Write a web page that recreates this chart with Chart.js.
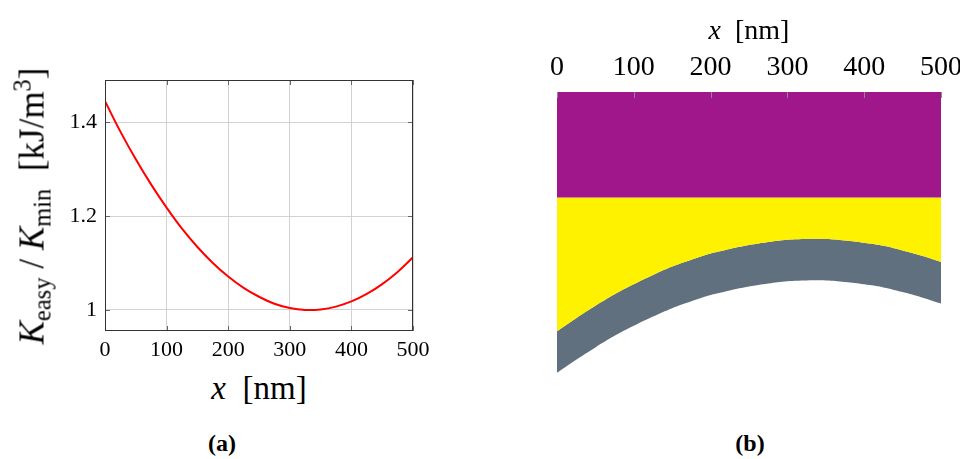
<!DOCTYPE html>
<html lang="en">
<head>
<meta charset="UTF-8">
<title>Keasy / Kmin and layer profile</title>
<script src="https://cdn.jsdelivr.net/npm/chart.js@4.4.0/dist/chart.umd.min.js"></script>
<style>
  body { margin: 0; background: #fff; font-family: "Liberation Serif", "Times New Roman", serif; }
  #wrap { position: relative; width: 966px; height: 459px; overflow: hidden; }
  canvas { position: absolute; }
  .lbl { position: absolute; white-space: nowrap; color: #000; line-height: 1; text-align: center; }
  .lbl sub { font-size: 0.7em; vertical-align: -0.3em; line-height: 0; }
  .lbl sup { font-size: 0.7em; vertical-align: 0.55em; line-height: 0; }
  #ytA { left: 32px; top: 206px; font-size: 35px; transform: translate(-50%, -50%) rotate(-90deg); }
  #xtA { left: 159px; top: 372px; width: 200px; font-size: 33px; }
  #xtB { left: 649px; top: 16px; width: 200px; font-size: 28px; }
  .cap { top: 431px; width: 100px; font-size: 24px; font-weight: bold; }
</style>
</head>
<body>
<div id="wrap">
  <canvas id="chartA" width="440" height="360" style="left:0;top:0"></canvas>
  <canvas id="chartB" width="420" height="400" style="left:540px;top:0"></canvas>
  <div class="lbl" id="ytA"><i>K</i><sub>easy</sub> / <i>K</i><sub>min</sub>&nbsp;&nbsp;[kJ/m<sup>3</sup>]</div>
  <div class="lbl" id="xtA"><i>x</i>&nbsp;&nbsp;[nm]</div>
  <div class="lbl" id="xtB"><i>x</i>&nbsp;&nbsp;[nm]</div>
  <div class="lbl cap" style="left:172px">(a)</div>
  <div class="lbl cap" style="left:700px">(b)</div>
</div>
<script>
// shared x positions (nm)
const xs = [0, 25, 50, 75, 100, 125, 150, 175, 200, 225, 250, 275, 300, 325, 350, 375, 400, 425, 450, 475, 500];
// (a) Keasy / Kmin
const ratio = [1.445, 1.380, 1.321, 1.267, 1.218, 1.173, 1.134, 1.100, 1.071, 1.047, 1.028, 1.013, 1.004, 1.000, 1.001, 1.007, 1.018, 1.034, 1.055, 1.081, 1.112];
// (b) depth below the top surface (nm, same scale as x)
const layerDepth = 137;
const wallTop = [311, 294, 278, 263, 250, 238, 227, 218, 210, 204, 199, 195, 192, 191, 191, 193, 196, 200, 206, 213, 221];
const wallBottom = [365, 348, 332, 317, 304, 292, 281, 272, 264, 258, 253, 249, 246, 245, 245, 247, 250, 254, 260, 267, 275];
// ticks
const xTicks = [0, 100, 200, 300, 400, 500];
const yTicksA = [1, 1.2, 1.4];

const serif = "'Liberation Serif', 'Times New Roman', serif";

// inner tick marks + closed frame, pgfplots style
const frameA = {
  id: 'frameA',
  afterDatasetsDraw(chart) {
    const { ctx, chartArea: a, scales: { x, y } } = chart;
    ctx.save();
    ctx.strokeStyle = '#666';
    ctx.lineWidth = 1;
    ctx.beginPath();
    xTicks.forEach(v => {
      const p = Math.round(x.getPixelForValue(v)) + 0.5;
      ctx.moveTo(p, a.bottom); ctx.lineTo(p, a.bottom - 5);
      ctx.moveTo(p, a.top); ctx.lineTo(p, a.top + 5);
    });
    yTicksA.forEach(v => {
      const p = Math.round(y.getPixelForValue(v)) + 0.5;
      ctx.moveTo(a.left, p); ctx.lineTo(a.left + 5, p);
      ctx.moveTo(a.right, p); ctx.lineTo(a.right - 5, p);
    });
    ctx.stroke();
    ctx.strokeStyle = '#333';
    ctx.strokeRect(a.left + 0.5, a.top + 0.5, a.width - 1, a.height - 1);
    ctx.restore();
  }
};

const ticksB = {
  id: 'ticksB',
  afterDatasetsDraw(chart) {
    const { ctx, chartArea: a, scales: { x } } = chart;
    ctx.save();
    ctx.strokeStyle = '#8a8a8a';
    ctx.lineWidth = 1;
    ctx.beginPath();
    xTicks.forEach(v => {
      const p = Math.round(x.getPixelForValue(v)) + 0.5;
      ctx.moveTo(p, a.top); ctx.lineTo(p, a.top + 6);
    });
    ctx.stroke();
    ctx.restore();
  }
};

new Chart(document.getElementById('chartA'), {
  type: 'line',
  data: {
    datasets: [{
      data: xs.map((x, i) => ({ x: x, y: ratio[i] })),
      borderColor: '#ff0000',
      borderWidth: 2,
      pointRadius: 0,
      tension: 0.4,
      fill: false
    }]
  },
  options: {
    responsive: false,
    animation: false,
    layout: { padding: { top: 80, right: 27, left: 0, bottom: 0 } },
    plugins: { legend: { display: false }, tooltip: { enabled: false } },
    scales: {
      x: {
        type: 'linear', min: 0, max: 500,
        afterBuildTicks: s => { s.ticks = xTicks.map(v => ({ value: v })); },
        afterFit: s => { s.height = 29; s.paddingLeft = 0; s.paddingRight = 0; },
        grid: { color: '#d2d2d2', drawTicks: false },
        border: { display: false },
        ticks: { padding: 6, autoSkip: false, maxRotation: 0, color: '#000', font: { family: serif, size: 22 }, callback: v => String(v) }
      },
      y: {
        type: 'linear', min: 0.955, max: 1.49,
        afterBuildTicks: s => { s.ticks = yTicksA.map(v => ({ value: v })); },
        afterFit: s => { s.width = 105; s.paddingTop = 0; s.paddingBottom = 0; },
        grid: { color: '#d2d2d2', drawTicks: false },
        border: { display: false },
        ticks: { padding: 8, autoSkip: false, color: '#000', font: { family: serif, size: 22 }, callback: v => String(v) }
      }
    }
  },
  plugins: [frameA]
});

new Chart(document.getElementById('chartB'), {
  type: 'line',
  data: {
    datasets: [
      { data: [{ x: 0, y: layerDepth }, { x: 500, y: layerDepth }], borderWidth: 0, pointRadius: 0, fill: { value: 0 }, backgroundColor: '#a0178c' },
      { data: xs.map((x, i) => ({ x: x, y: wallTop[i] })), borderWidth: 0, pointRadius: 0, tension: 0.4, fill: { value: layerDepth }, backgroundColor: '#fff200' },
      { data: xs.map((x, i) => ({ x: x, y: wallBottom[i] })), borderWidth: 0, pointRadius: 0, tension: 0.4, fill: '-1', backgroundColor: '#61707e' }
    ]
  },
  options: {
    responsive: false,
    animation: false,
    layout: { padding: { top: 0, right: 19, left: 17, bottom: 8 } },
    plugins: { legend: { display: false }, tooltip: { enabled: false } },
    scales: {
      x: {
        type: 'linear', position: 'top', min: 0, max: 500,
        afterBuildTicks: s => { s.ticks = xTicks.map(v => ({ value: v })); },
        afterFit: s => { s.height = 92; s.paddingLeft = 0; s.paddingRight = 0; },
        grid: { drawOnChartArea: false, drawTicks: false },
        border: { display: true, color: '#555', width: 1 },
        ticks: { padding: 8, autoSkip: false, maxRotation: 0, color: '#000', font: { family: serif, size: 28 }, callback: v => String(v) }
      },
      y: { display: false, reverse: true, min: 0, max: 390 }
    }
  },
  plugins: [ticksB]
});
</script>
</body>
</html>
